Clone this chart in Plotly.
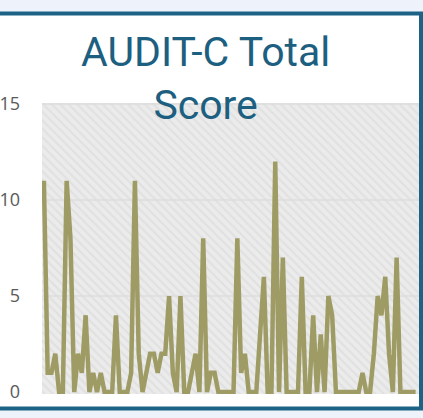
import plotly.graph_objects as go

# ---- data ----
scores = [11, 1, 1, 2, 0, 0, 11, 8, 0, 2, 1, 4, 0, 1, 0, 1, 0, 0, 0, 4,
          0, 0, 0, 1, 11, 2, 0, 1, 2, 2, 1, 2, 2, 5, 1, 0, 5, 0, 0, 1,
          2, 0, 8, 0, 1, 1, 0, 0, 0, 0, 0, 8, 1, 2, 0, 0, 0, 3, 6, 0,
          0, 12, 0, 7, 0, 0, 0, 0, 6, 0, 0, 4, 0, 3, 0, 5, 4, 0, 0, 0,
          0, 0, 0, 0, 1, 0, 0, 2, 5, 4, 6, 2, 0, 7, 0, 0, 0, 0, 0]
x_idx = list(range(len(scores)))
y_ticks = [0, 5, 10, 15]
y_tick_labels = ["0", "5", "10", "15"]
grid_levels = [5, 10, 15]
title_text = "AUDIT-C Total<br>Score"

X_RANGE = [-0.5, 98.9]
Y_RANGE = [-0.1, 15.05]

LINE_COLOR = "#9e9c64"
DARK = "#1d6386"
PAGE_BG = "#eef3fb"

W, H = 423, 418
ML, MR, MT, MB = 42, 4, 103, 24
pw = W - ML - MR
ph = H - MT - MB


def px_x(p):
    return (p - ML) / pw


def px_y(p):
    return (H - MB - p) / ph


fig = go.Figure()

# hatched plot background
fig.add_trace(go.Bar(
    x=[(X_RANGE[0] + X_RANGE[1]) / 2], y=[Y_RANGE[1] - Y_RANGE[0]], base=[Y_RANGE[0]],
    width=[X_RANGE[1] - X_RANGE[0]],
    marker=dict(color="#ebebeb", line=dict(width=0),
                pattern=dict(shape="\\", fgcolor="#d6d6d6", bgcolor="#ebebeb",
                             size=6, solidity=0.35)),
    hoverinfo="skip", showlegend=False,
))

# gridlines
gx, gy = [], []
for g in grid_levels:
    gx += [X_RANGE[0], X_RANGE[1], None]
    gy += [g, g, None]
fig.add_trace(go.Scatter(x=gx, y=gy, mode="lines",
                         line=dict(color="#dddddd", width=1.5),
                         hoverinfo="skip", showlegend=False))

# data line
fig.add_trace(go.Scatter(x=x_idx, y=scores, mode="lines",
                         line=dict(color=LINE_COLOR, width=4.5),
                         showlegend=False))

fig.update_layout(
    width=W, height=H,
    margin=dict(l=ML, r=MR, t=MT, b=MB, pad=0, autoexpand=False),
    paper_bgcolor=PAGE_BG,
    plot_bgcolor="rgba(0,0,0,0)",
    bargap=0,
    xaxis=dict(range=X_RANGE, visible=False, showgrid=False, zeroline=False,
               fixedrange=True, automargin=False),
    yaxis=dict(range=Y_RANGE, tickvals=y_ticks, ticktext=y_tick_labels,
               showgrid=False, zeroline=False, showline=False, ticks="",
               ticklabelstandoff=21, automargin=False,
               tickfont=dict(family="Open Sans", size=18, color="#595959")),
    shapes=[dict(type="rect", xref="paper", yref="paper",
                 x0=px_x(-10), x1=px_x(421), y0=px_y(408.5), y1=px_y(13.5),
                 fillcolor="white", line=dict(color=DARK, width=4), layer="below")],
    annotations=[dict(text=title_text, xref="paper", yref="paper",
                      x=px_x(205), y=px_y(78), xanchor="center", yanchor="middle",
                      showarrow=False,
                      font=dict(family="Roboto", size=41, color="#1d5f80"))],
)

fig.write_html("out.html", config={"displayModeBar": False},
               post_script="document.body.style.margin='0';document.body.style.overflow='hidden';")
